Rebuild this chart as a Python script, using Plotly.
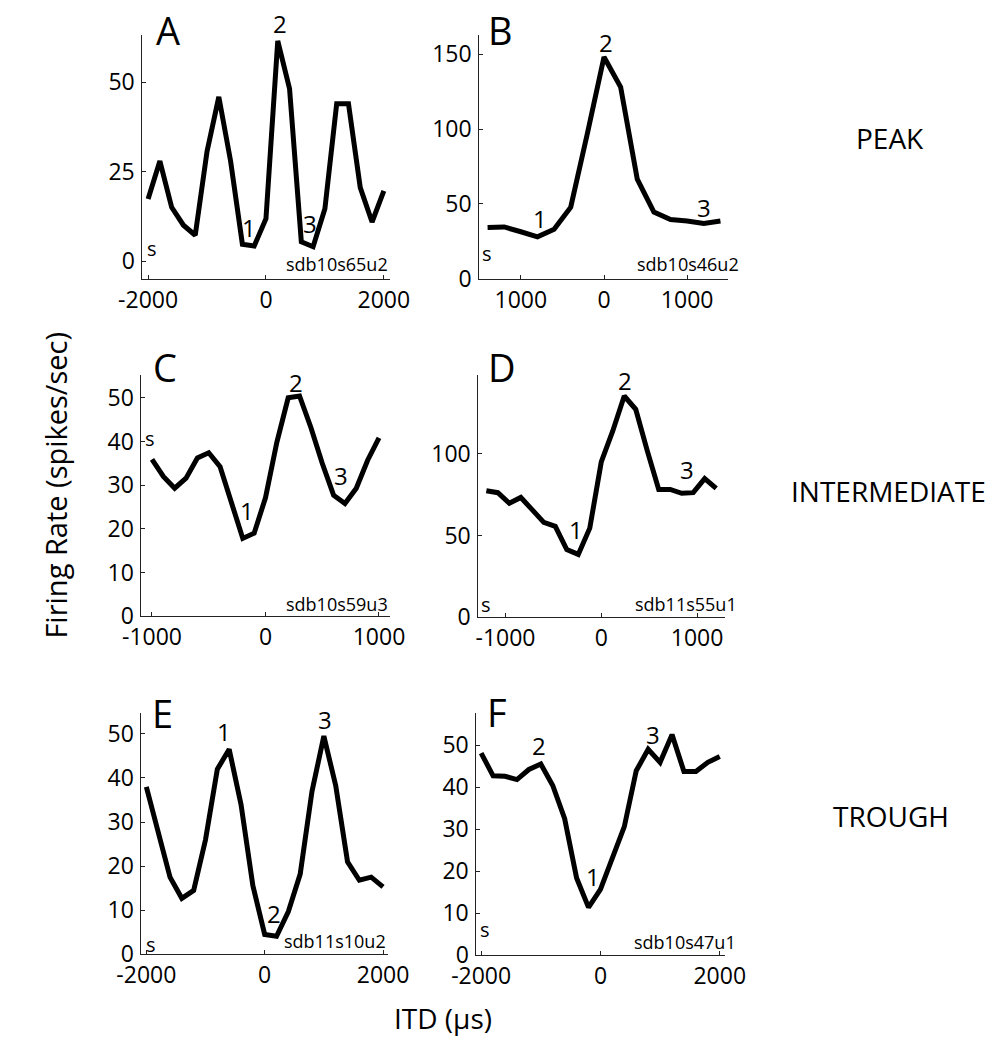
import plotly.graph_objects as go

# ITD tuning curves: interaural time difference (µs) vs firing rate (spikes/sec)
itd_a = list(range(-2000, 2001, 200))
rate_a = [17.4, 28, 15.1, 10.1, 7.3, 30.7, 45.9, 28, 4.8, 4.3, 11.9,
          61.5, 48.2, 5.5, 4.1, 14.7, 44, 44, 20.6, 11, 19.7]

itd_b = list(range(-1400, 1401, 200))
rate_b = [34.3, 34.7, 31.5, 28.1, 33.2, 47.9, 97, 148, 128, 66.6, 44.6,
          39.6, 38.7, 37, 38.7]

itd_c = list(range(-1000, 1001, 100))
rate_c = [35.9, 32, 29.3, 31.6, 36.2, 37.4, 34.2, 26.1, 17.8, 19, 27.1,
          39.8, 50, 50.4, 43.2, 35, 27.7, 25.8, 29.3, 35.7, 40.8]

itd_d = list(range(-1200, 1201, 120))
rate_d = [77.4, 76.2, 69.7, 73.3, 65.7, 58, 55.6, 41.4, 38.4, 54.5, 95,
          114, 135.4, 127.3, 102, 78.2, 78.2, 75.8, 76.2, 84.8, 78.8]

itd_e = list(range(-2000, 2001, 200))
rate_e = [38, 27.5, 17.5, 12.7, 14.5, 26, 42, 46.5, 34, 15.6, 4.5,
          4.1, 9.7, 18.2, 37, 49.5, 38.3, 21, 16.8, 17.5, 15.3]

itd_f = list(range(-2000, 2001, 200))
rate_f = [48.1, 42.7, 42.6, 41.8, 44.2, 45.5, 40.4, 32.5, 18.4, 11.4, 15.7,
          23.1, 30.6, 43.9, 49, 45.9, 52.5, 43.7, 43.7, 45.9, 47.3]

panel_letters = ["A", "B", "C", "D", "E", "F"]
unit_names = ["sdb10s65u2", "sdb10s46u2", "sdb10s59u3",
              "sdb11s55u1", "sdb11s10u2", "sdb10s47u1"]
row_labels = ["PEAK", "INTERMEDIATE", "TROUGH"]

x_ticks = [[-2000, 0, 2000], [-1000, 0, 1000], [-1000, 0, 1000],
           [-1000, 0, 1000], [-2000, 0, 2000], [-2000, 0, 2000]]
x_tick_text = [["-2000", "0", "2000"], ["1000", "0", "1000"],
               ["-1000", "0", "1000"], ["-1000", "0", "1000"],
               ["-2000", "0", "2000"], ["-2000", "0", "2000"]]
y_ticks = [[0, 25, 50], [0, 50, 100, 150], [0, 10, 20, 30, 40, 50],
           [0, 50, 100], [0, 10, 20, 30, 40, 50], [0, 10, 20, 30, 40, 50]]

# numbered landmarks (label, itd, rate) per panel
marks = [
    [("1", -281, 9.6), ("2", 232, 66.5), ("3", 746, 10.5)],
    [("1", -765, 40.2), ("2", 19, 157.8), ("3", 1205, 47.9)],
    [("1", -161, 24.1), ("2", 273, 53.6), ("3", 668, 32.3)],
    [("1", -265, 53.5), ("2", 252, 144.8), ("3", 896, 90.3)],
    [("1", -687, 50.6), ("2", 156, 9.3), ("3", 1020, 53.2)],
    [("1", -133, 18.8), ("2", -1024, 49.8), ("3", 880, 52.5)],
]

xs = [itd_a, itd_b, itd_c, itd_d, itd_e, itd_f]
ys = [rate_a, rate_b, rate_c, rate_d, rate_e, rate_f]

W, H = 1007, 1059
FONT = "Open Sans"

# panel boxes in pixels: left, right, top, bottom
boxes = [(123, 382, 35, 283), (476, 737, 35, 283),
         (122, 382, 380, 625), (475, 733, 380, 626),
         (122, 380, 723, 968), (473, 733, 723, 969)]
x_ranges = [[-2097, 2097], [-1500, 1495], [-1093, 1093],
            [-1284, 1287], [-2083, 2078], [-2080, 2080]]
y_ranges = [[-4.9, 63.3], [0, 163], [0, 55.3], [0, 148.5], [0, 54.8], [0, 57.7]]

# text placements in axis-domain fractions
letter_pos = [(0.104, 1.02), (0.084, 1.02), (0.093, 1.03),
              (0.097, 1.03), (0.085, 1.0), (0.085, 1.004)]
s_pos = [(0.04, 0.125), (0.03, 0.105), (0.035, 0.735),
         (0.03, 0.053), (0.04, 0.04), (0.035, 0.106)]
unit_pos = [(1.0, 0.06), (1.05, 0.06), (1.0, 0.05),
            (1.058, 0.053), (1.0, 0.053), (1.054, 0.054)]

fig = go.Figure()
annotations = []
layout = {}

for i in range(6):
    n = "" if i == 0 else str(i + 1)
    xa, ya = "x" + n, "y" + n
    l, r, t, b = boxes[i]
    lo, hi = y_ranges[i]
    fig.add_trace(go.Scatter(
        x=xs[i], y=ys[i], mode="lines", xaxis=xa, yaxis=ya,
        line=dict(color="black", width=5), showlegend=False,
        hoverinfo="skip"))
    axis_common = dict(showline=True, linecolor="#222", linewidth=1,
                       ticks="inside", ticklen=4, tickcolor="#222",
                       showgrid=False, zeroline=False,
                       tickfont=dict(family=FONT, size=23, color="black"))
    layout["xaxis" + n] = dict(
        domain=[l / W, r / W], anchor=ya, range=x_ranges[i],
        tickmode="array", tickvals=x_ticks[i], ticktext=x_tick_text[i],
        **axis_common)
    layout["yaxis" + n] = dict(
        domain=[1 - b / H, 1 - t / H], anchor=xa, range=y_ranges[i],
        tickmode="array", tickvals=y_ticks[i],
        ticktext=[str(v) for v in y_ticks[i]], ticklabelstandoff=2,
        **axis_common)

    annotations.append(dict(
        text=panel_letters[i], xref=xa + " domain", yref=ya + " domain",
        x=letter_pos[i][0], y=letter_pos[i][1], showarrow=False,
        xanchor="center", yanchor="middle",
        font=dict(family=FONT, size=38, color="black")))
    annotations.append(dict(
        text="s", xref=xa + " domain", yref=ya + " domain",
        x=s_pos[i][0], y=s_pos[i][1], showarrow=False,
        xanchor="center", yanchor="middle",
        font=dict(family=FONT, size=20, color="black")))
    annotations.append(dict(
        text=unit_names[i], xref=xa + " domain", yref=ya + " domain",
        x=unit_pos[i][0], y=unit_pos[i][1], showarrow=False,
        xanchor="right", yanchor="middle",
        font=dict(family=FONT, size=18, color="black")))
    # landmark numbers: x in data units, y as a fraction of the panel height
    # so that labels sitting above the top of the axis are still drawn
    for lab, mx, my in marks[i]:
        annotations.append(dict(
            text=lab, xref=xa, yref=ya + " domain", x=mx,
            y=(my - lo) / (hi - lo), showarrow=False,
            xanchor="center", yanchor="middle",
            font=dict(family=FONT, size=24, color="black")))

# shared axis titles
annotations.append(dict(
    text="Firing Rate (spikes/sec)", xref="paper", yref="paper",
    x=31 / W, y=1 - 492 / H, showarrow=False, textangle=-90,
    xanchor="center", yanchor="middle",
    font=dict(family=FONT, size=29, color="black")))
annotations.append(dict(
    text="ITD (µs)", xref="paper", yref="paper",
    x=438 / W, y=1 - 1033 / H, showarrow=False,
    xanchor="center", yanchor="middle",
    font=dict(family=FONT, size=28, color="black")))

# response class labels for each row
for lab, (cx, cy) in zip(row_labels, [(906, 140), (905, 498), (907, 828)]):
    annotations.append(dict(
        text=lab, xref="paper", yref="paper", x=cx / W, y=1 - cy / H,
        showarrow=False, xanchor="center", yanchor="middle",
        font=dict(family=FONT, size=28, color="black")))

fig.update_layout(
    width=W, height=H,
    margin=dict(l=0, r=0, t=0, b=0),
    paper_bgcolor="white", plot_bgcolor="white",
    annotations=annotations,
    **layout)

fig.write_html("out.html")
